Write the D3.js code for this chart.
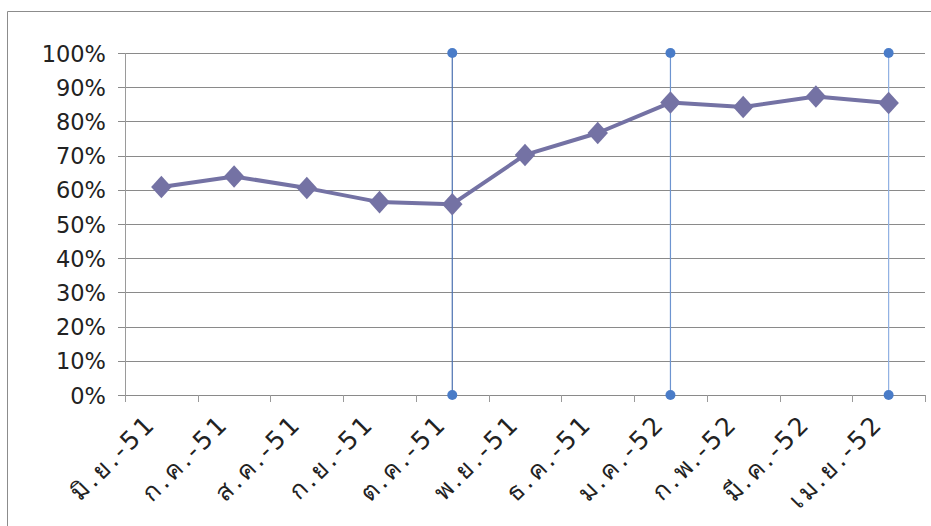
<!DOCTYPE html>
<html>
<head>
<meta charset="utf-8">
<script src="https://cdn.jsdelivr.net/npm/d3@7/dist/d3.min.js"></script>
<style>
  body { margin: 0; background: #fff; }
  svg { display: block; }
  .tick text { fill: #222; }
</style>
</head>
<body>
<svg id="chart" width="931" height="526"></svg>
<script>
// categories (Thai month labels) and values
var months = ["มิ.ย.-51", "ก.ค.-51", "ส.ค.-51", "ก.ย.-51", "ต.ค.-51", "พ.ย.-51",
              "ธ.ค.-51", "ม.ค.-52", "ก.พ.-52", "มี.ค.-52", "เม.ย.-52"];
var values = [0.608, 0.639, 0.605, 0.564, 0.558, 0.702, 0.766, 0.855, 0.842, 0.873, 0.854];
var markerMonths = ["ต.ค.-51", "ม.ค.-52", "เม.ย.-52"];
var yTicks = [0, 0.1, 0.2, 0.3, 0.4, 0.5, 0.6, 0.7, 0.8, 0.9, 1];

var svg = d3.select("#chart");
var margin = {top: 53, left: 125, right: 6, bottom: 131};
var width = 931 - margin.left - margin.right,
    height = 526 - margin.top - margin.bottom;

// outer frame
svg.append("path")
  .attr("d", "M7.5,526 V11.5 H931")
  .attr("fill", "none")
  .attr("stroke", "#8c8c8c")
  .attr("stroke-width", 1);

var g = svg.append("g").attr("transform", "translate(" + margin.left + "," + margin.top + ")");

var x = d3.scaleBand().domain(months).range([0, width]);
var y = d3.scaleLinear().domain([0, 1]).range([height, 0]);

// gridlines
g.append("g")
  .selectAll("line")
  .data(yTicks)
  .enter().append("line")
  .attr("x1", -7).attr("x2", width)
  .attr("y1", function(d) { return Math.round(y(d)) + 0.5; })
  .attr("y2", function(d) { return Math.round(y(d)) + 0.5; })
  .attr("stroke", "#8a8a8a")
  .attr("stroke-width", 1.2);

// y axis
var yAxis = d3.axisLeft(y).tickValues(yTicks).tickFormat(d3.format(".0%")).tickSize(0).tickPadding(19);
g.append("g")
  .call(yAxis)
  .call(function(s) { s.select(".domain").remove(); })
  .selectAll("text")
  .style("font-family", "'DejaVu Sans', sans-serif")
  .style("font-size", "22.5px")
  .attr("dy", "0.36em");

g.append("line")
  .attr("x1", 0.5).attr("x2", 0.5)
  .attr("y1", 0).attr("y2", height + 7)
  .attr("stroke", "#9a9a9a");

// x ticks at band edges
var edges = months.map(function(m) { return x(m); }).concat([width]);
g.append("g")
  .selectAll("line")
  .data(edges)
  .enter().append("line")
  .attr("x1", function(d) { return Math.round(d) + 0.5; })
  .attr("x2", function(d) { return Math.round(d) + 0.5; })
  .attr("y1", height).attr("y2", height + 7)
  .attr("stroke", "#9a9a9a");

// x labels
var xAxis = d3.axisBottom(x).tickSize(0).tickPadding(0);
var xg = g.append("g")
  .attr("transform", "translate(0," + height + ")")
  .call(xAxis);
xg.select(".domain").remove();
xg.selectAll("text")
  .style("font-family", "'DejaVu Sans', sans-serif")
  .style("font-size", "25px")
  .style("letter-spacing", "3px")
  .style("text-anchor", "end")
  .attr("dy", "0")
  .attr("transform", "translate(-4,30) rotate(-45)");

// vertical marker lines with dots
var lineColors = ["#4a70b0", "#6d94d0", "#8fb0e2"];
var vg = g.append("g");
markerMonths.forEach(function(m, i) {
  var cx = x(m) + x.bandwidth() / 2;
  vg.append("line")
    .attr("x1", cx).attr("x2", cx)
    .attr("y1", y(1)).attr("y2", y(0))
    .attr("stroke", lineColors[i]).attr("stroke-width", 1.2);
  [1, 0].forEach(function(v) {
    vg.append("circle")
      .attr("cx", cx).attr("cy", y(v)).attr("r", 5)
      .attr("fill", "#4a7cc8");
  });
});

// series line
var line = d3.line()
  .x(function(d, i) { return x(months[i]) + x.bandwidth() / 2; })
  .y(function(d) { return y(d); });
g.append("path")
  .datum(values)
  .attr("d", line)
  .attr("fill", "none")
  .attr("stroke", "#7472a4")
  .attr("stroke-width", 4)
  .attr("stroke-linejoin", "round");

var squareDiamond = {
  draw: function(ctx, size) {
    var r = Math.sqrt(size) / 2;
    ctx.moveTo(0, -r * 1.1);
    ctx.lineTo(r, 0);
    ctx.lineTo(0, r * 1.1);
    ctx.lineTo(-r, 0);
    ctx.closePath();
  }
};
var diamond = d3.symbol().type(squareDiamond).size(420);
g.selectAll(".pt")
  .data(values)
  .enter().append("path")
  .attr("class", "pt")
  .attr("d", diamond)
  .attr("transform", function(d, i) {
    return "translate(" + (x(months[i]) + x.bandwidth() / 2) + "," + y(d) + ")";
  })
  .attr("fill", "#7472a4");
</script>
</body>
</html>
